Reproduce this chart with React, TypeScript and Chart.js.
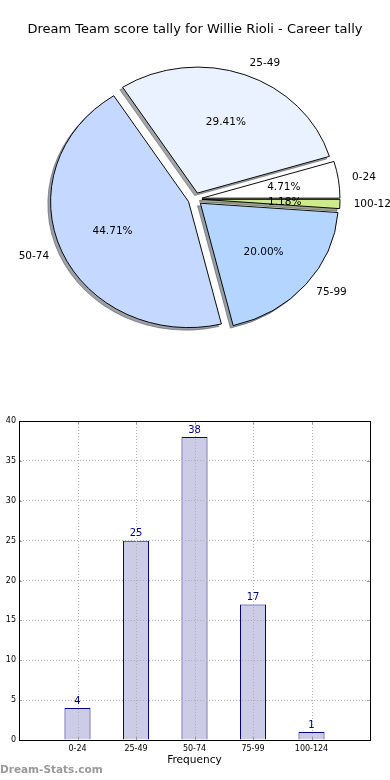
import React, { useEffect, useRef } from 'react';
import { Chart, registerables, ArcElement } from 'chart.js';

Chart.register(...registerables);

const chartTitle = 'Dream Team score tally for Willie Rioli - Career tally';
const categories = ['0-24', '25-49', '50-74', '75-99', '100-124'];
const counts = [4, 25, 38, 17, 1];
const pieColors = ['#ffffff', '#eaf2ff', '#c5d8ff', '#b3d5ff', '#cdeb8b'];
const yTickMax = 40;
const yTickStep = 5;
const xAxisTitle = 'Frequency';
const watermark = 'Dream-Stats.com';

const FONT = "'DejaVu Sans', 'Noto Sans', sans-serif";
const EXPLODE = 7;
const SQUASH = 0.913;
const SHADOW = 2.76;
const GRID_COLOR = '#b0b0b0';

const origDraw = ArcElement.prototype.draw;

function shadowColor(hex: string): string {
  const h = hex.replace('#', '');
  const r = parseInt(h.slice(0, 2), 16);
  const g = parseInt(h.slice(2, 4), 16);
  const b = parseInt(h.slice(4, 6), 16);
  return `rgba(${Math.round(r * 0.3)},${Math.round(g * 0.3)},${Math.round(b * 0.3)},0.5)`;
}

const pieLabels = [...categories].reverse();
const pieData = [...counts].reverse();
const pieBg = [...pieColors].reverse();

const piePlugin = {
  id: 'mplPie',
  beforeDatasetsDraw(chart: any) {
    const ctx = chart.ctx;
    const meta = chart.getDatasetMeta(0);
    const first = meta.data[0];
    const cx = first.x;
    const cy = first.y;
    ctx.save();
    ctx.translate(cx, cy);
    ctx.scale(1, SQUASH);
    ctx.translate(-cx, -cy);
    meta.data.forEach((el: any) => {
      const mid = (el.startAngle + el.endAngle) / 2;
      const opts = el.options;
      const sc = shadowColor(opts.backgroundColor);
      ctx.save();
      ctx.translate(Math.cos(mid) * EXPLODE - SHADOW, Math.sin(mid) * EXPLODE + SHADOW);
      el.options = { ...opts, backgroundColor: sc, borderColor: sc };
      origDraw.call(el, ctx);
      el.options = opts;
      ctx.restore();
      if (!el._mplPatched) {
        el._mplPatched = true;
        el.draw = function (c: CanvasRenderingContext2D) {
          const m = (this.startAngle + this.endAngle) / 2;
          c.save();
          c.translate(Math.cos(m) * EXPLODE, Math.sin(m) * EXPLODE);
          origDraw.call(this, c);
          c.restore();
        };
      }
    });
  },
  afterDatasetsDraw(chart: any) {
    const ctx = chart.ctx;
    ctx.restore();
    const meta = chart.getDatasetMeta(0);
    const total = pieData.reduce((a, b) => a + b, 0);
    ctx.save();
    ctx.fillStyle = '#000';
    ctx.font = `10.5px ${FONT}`;
    ctx.textBaseline = 'middle';
    meta.data.forEach((el: any, i: number) => {
      const mid = (el.startAngle + el.endAngle) / 2;
      const R = el.outerRadius;
      const cx = el.x;
      const cy = el.y;
      const cos = Math.cos(mid);
      const sin = Math.sin(mid);
      const lx = cx + cos * (EXPLODE + 1.1 * R);
      const ly = cy + sin * (EXPLODE + 1.1 * R) * SQUASH;
      ctx.textAlign = cos > 0 ? 'left' : 'right';
      ctx.fillText(pieLabels[i], lx, ly);
      const px = cx + cos * (EXPLODE + 0.6 * R);
      const py = cy + sin * (EXPLODE + 0.6 * R) * SQUASH;
      ctx.textAlign = 'center';
      ctx.fillText(((pieData[i] / total) * 100).toFixed(2) + '%', px, py);
    });
    ctx.restore();
  },
};

const barPlugin = {
  id: 'mplBar',
  afterDatasetsDraw(chart: any) {
    const ctx = chart.ctx;
    const a = chart.chartArea;
    const xs = chart.scales.x;
    const ys = chart.scales.y;
    ctx.save();
    ctx.strokeStyle = GRID_COLOR;
    ctx.lineWidth = 1;
    ctx.setLineDash([1, 2]);
    xs.ticks.forEach((_t: any, i: number) => {
      const px = Math.round(xs.getPixelForTick(i)) + 0.5;
      ctx.beginPath();
      ctx.moveTo(px, a.top);
      ctx.lineTo(px, a.bottom);
      ctx.stroke();
    });
    ctx.setLineDash([]);
    ctx.strokeStyle = '#999999';
    xs.ticks.forEach((_t: any, i: number) => {
      const px = Math.round(xs.getPixelForTick(i)) + 0.5;
      ctx.beginPath();
      ctx.moveTo(px, a.top);
      ctx.lineTo(px, a.top + 3);
      ctx.moveTo(px, a.bottom);
      ctx.lineTo(px, a.bottom - 3);
      ctx.stroke();
    });
    ys.ticks.forEach((_t: any, i: number) => {
      const py = Math.round(ys.getPixelForTick(i)) + 0.5;
      ctx.beginPath();
      ctx.moveTo(a.left, py);
      ctx.lineTo(a.left + 3, py);
      ctx.moveTo(a.right, py);
      ctx.lineTo(a.right - 3, py);
      ctx.stroke();
    });
    ctx.restore();
  },
  afterDraw(chart: any) {
    const ctx = chart.ctx;
    const a = chart.chartArea;
    ctx.save();
    ctx.strokeStyle = '#000';
    ctx.lineWidth = 1;
    ctx.strokeRect(Math.round(a.left) + 0.5, Math.round(a.top) + 0.5, Math.round(a.right - a.left), Math.round(a.bottom - a.top));
    const meta = chart.getDatasetMeta(0);
    ctx.fillStyle = '#000080';
    ctx.font = `10px ${FONT}`;
    ctx.textAlign = 'center';
    ctx.textBaseline = 'bottom';
    meta.data.forEach((el: any, i: number) => {
      ctx.fillText(String(counts[i]), el.x, el.y - 2);
    });
    ctx.fillStyle = '#999999';
    ctx.font = `bold 10.5px ${FONT}`;
    ctx.textAlign = 'left';
    ctx.textBaseline = 'middle';
    ctx.fillText(watermark, 0, chart.height - 10);
    ctx.restore();
  },
};

export default function App() {
  const pieRef = useRef<HTMLCanvasElement>(null);
  const barRef = useRef<HTMLCanvasElement>(null);

  useEffect(() => {
    const pie = new Chart(pieRef.current!, {
      type: 'pie',
      data: {
        labels: pieLabels,
        datasets: [
          {
            data: pieData,
            backgroundColor: pieBg,
            borderColor: '#000000',
            borderWidth: 1,
            borderJoinStyle: 'miter',
            radius: 138,
          } as any,
        ],
      },
      options: {
        animation: false,
        responsive: false,
        rotation: 90,
        layout: { padding: { top: 0, bottom: 29.4, left: 0, right: 0 } },
        plugins: {
          legend: { display: false },
          tooltip: { enabled: false },
          title: {
            display: true,
            text: chartTitle,
            color: '#000',
            font: { family: FONT, size: 13, weight: 'normal' },
            padding: { top: 22, bottom: 0 },
          },
        },
      } as any,
      plugins: [piePlugin],
    });

    const bar = new Chart(barRef.current!, {
      type: 'bar',
      data: {
        datasets: [
          {
            data: counts.map((c, i) => ({ x: i, y: c })),
            backgroundColor: '#ccccE6',
            borderColor: '#000080',
            borderWidth: 1,
            barPercentage: 0.445,
            categoryPercentage: 1,
          },
        ],
      },
      options: {
        animation: false,
        responsive: false,
        layout: { padding: { top: 31, right: 20, left: 0, bottom: 0 } },
        plugins: { legend: { display: false }, tooltip: { enabled: false } },
        scales: {
          x: {
            type: 'linear',
            min: -1,
            max: 5,
            offset: false,
            ticks: {
              stepSize: 1,
              autoSkip: false,
              maxRotation: 0,
              callback: (v: any) => categories[v] ?? '',
              font: { family: FONT, size: 8 },
              color: '#000',
              padding: 4,
            },
            grid: { display: false, drawTicks: false },
            border: { z: 1, color: '#000', width: 1 },
            title: {
              display: true,
              text: xAxisTitle,
              color: '#000',
              font: { family: FONT, size: 10.6 },
              padding: { top: 0, bottom: 13.6 },
            },
            afterFit: (s: any) => {
              s.height = 40;
            },
          },
          y: {
            min: 0,
            max: yTickMax,
            ticks: { stepSize: yTickStep, font: { family: FONT, size: 8 }, color: '#000', padding: 3 },
            grid: { z: 1, color: GRID_COLOR, drawTicks: false, lineWidth: 1 },
            border: { z: 1, dash: [1, 2], color: '#000', width: 1 },
            afterFit: (s: any) => {
              s.width = 19;
            },
          },
        },
      } as any,
      plugins: [barPlugin],
    });

    return () => {
      pie.destroy();
      bar.destroy();
    };
  }, []);

  return (
    <div style={{ position: 'absolute', left: 0, top: 0, width: 390, height: 780, background: '#fff' }}>
      <canvas ref={pieRef} width={390} height={390} style={{ display: 'block', position: 'absolute', left: 0, top: 0 }} />
      <canvas ref={barRef} width={390} height={390} style={{ display: 'block', position: 'absolute', left: 0, top: 390 }} />
    </div>
  );
}
